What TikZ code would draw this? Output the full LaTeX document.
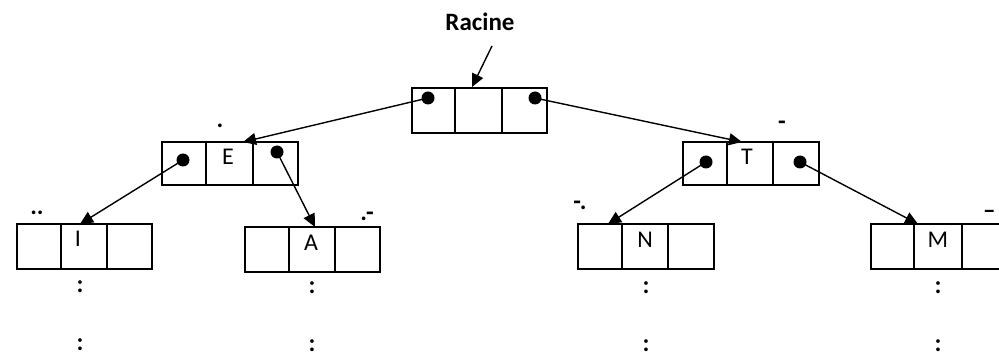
\documentclass[tikz,border=0pt]{standalone}
\usepackage{fontspec}
\setmainfont{Carlito}
\usetikzlibrary{arrows.meta}
\begin{document}
\begin{tikzpicture}[x=1pt,y=-1pt,
  cell/.style={draw,line width=1.4pt,minimum height=45pt,inner sep=0pt,outer sep=0pt},
  letter/.style={anchor=base,inner sep=0pt,font=\fontsize{24}{26}\selectfont},
  code/.style={anchor=base,inner sep=0pt,font=\bfseries\fontsize{25}{27}\selectfont},
  dot/.style={circle,fill,minimum size=13pt,inner sep=0pt},
  arr/.style={line width=1.4pt,-{Triangle[length=13pt,width=12pt]}}]
\useasboundingbox (0,0) rectangle (999,358);
% root
\node[cell,minimum width=43pt] (rL) at (433.5,110.5) {};
\node[cell,minimum width=47pt] (rM) at (478.5,110.5) {};
\node[cell,minimum width=45pt] (rR) at (524.5,110.5) {};
\node[code] (rac) at (480,31) {Racine};
\coordinate (racS) at (492,46);
\coordinate (racE) at (472,87);
\draw[arr] (racS) -- (racE);
% E
\node[cell,minimum width=44pt,minimum height=43pt] (eL) at (184,163.5) {};
\node[cell,minimum width=47pt,minimum height=43pt] (eM) at (229.5,163.5) {};
\node[cell,minimum width=45pt,minimum height=43pt] (eR) at (275.5,163.5) {};
\node[letter] (eT) at (228,165) {E};
\node[code] (eC) at (220,128) {.};
% T
\node[cell,minimum width=44pt,minimum height=43pt] (tL) at (705,163.5) {};
\node[cell,minimum width=46pt,minimum height=43pt] (tM) at (750,163.5) {};
\node[cell,minimum width=46pt,minimum height=43pt] (tR) at (796,163.5) {};
\node[letter] (tT) at (747,165) {T};
\node[code] (tC) at (782,130) {-};
% I
\node[cell,minimum width=44pt] (iL) at (39,246.5) {};
\node[cell,minimum width=46pt] (iM) at (84,246.5) {};
\node[cell,minimum width=45pt] (iR) at (129.5,246.5) {};
\node[letter] (iT) at (78,247) {I};
\node[code] (iC) at (37,215) {..};
% A
\node[cell,minimum width=44pt] (aL) at (267,249.5) {};
\node[cell,minimum width=46pt] (aM) at (312,249.5) {};
\node[cell,minimum width=45pt] (aR) at (357.5,249.5) {};
\node[letter] (aT) at (311,251) {A};
\node[code] (aC) at (367,221) {.-};
% N
\node[cell,minimum width=44pt] (nL) at (600,246.5) {};
\node[cell,minimum width=46pt] (nM) at (645,246.5) {};
\node[cell,minimum width=46pt] (nR) at (691,246.5) {};
\node[letter] (nT) at (645,248) {N};
\node[code] (nC) at (580,210) {-.};
% M
\node[cell,minimum width=43pt] (mL) at (892.5,246.5) {};
\node[cell,minimum width=48pt] (mM) at (938,246.5) {};
\node[cell,minimum width=45pt] (mR) at (984.5,246.5) {};
\node[letter] (mT) at (938,248) {M};
\node[code,anchor=base west] (mC) at (983,219) {--};
% colons
\foreach \nm/\xx/\ya/\yb in {i/80/293/350, a/312/294/351, n/646/294/351, m/938/294/351}{
  \node[code] (\nm c1) at (\xx,\ya) {:};
  \node[code] (\nm c2) at (\xx,\yb) {:};
}
% dots
\node[dot] (drL) at (428,98) {};
\node[dot] (drR) at (535,98) {};
\node[dot] (deL) at (183,160) {};
\node[dot] (deR) at (277,152) {};
\node[dot] (dtL) at (706,162) {};
\node[dot] (dtR) at (800,162) {};
% targets
\coordinate (inE) at (243,142);
\coordinate (inT) at (742,142);
\coordinate (inI) at (80,224);
\coordinate (inA) at (315,227);
\coordinate (inN) at (608,224);
\coordinate (inM) at (918,224);
\draw[arr] (drL.center) -- (inE);
\draw[arr] (drR.center) -- (inT);
\draw[arr] (deL.center) -- (inI);
\draw[arr] (deR.center) -- (inA);
\draw[arr] (dtL.center) -- (inN);
\draw[arr] (dtR.center) -- (inM);
\end{tikzpicture}
\end{document}
